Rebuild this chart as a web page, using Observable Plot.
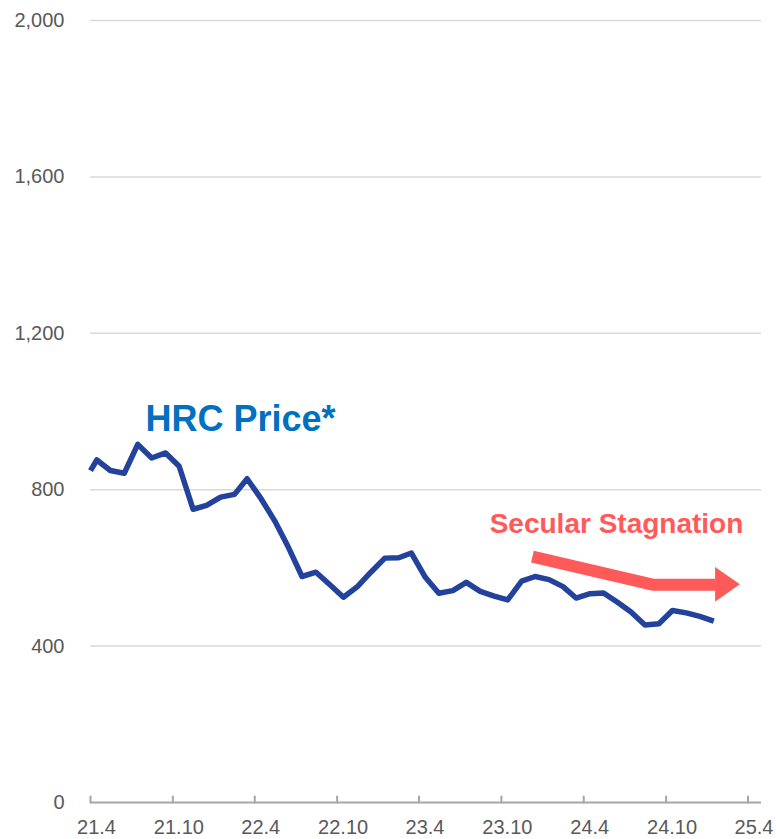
<!DOCTYPE html>
<html><head><meta charset="utf-8">
<script src="https://cdn.jsdelivr.net/npm/d3@7"></script>
<script src="https://cdn.jsdelivr.net/npm/@observablehq/plot@0.6"></script>
<style>
body{margin:0;background:#fff;}
#chart svg{display:block;}
</style>
</head><body><div id="chart"></div>
<script>
// HRC price series (point dates and values)
const dates = [
  "2021-04-01","2021-04-15","2021-05-15","2021-06-15","2021-07-15","2021-08-15","2021-09-15",
  "2021-10-15","2021-11-15","2021-12-15","2022-01-15","2022-02-15","2022-03-15","2022-04-15",
  "2022-05-15","2022-06-15","2022-07-15","2022-08-15","2022-09-15","2022-10-15","2022-11-15",
  "2022-12-15","2023-01-15","2023-02-15","2023-03-15","2023-04-15","2023-05-15","2023-06-15",
  "2023-07-15","2023-08-15","2023-09-15","2023-10-15","2023-11-15","2023-12-15","2024-01-15",
  "2024-02-15","2024-03-15","2024-04-15","2024-05-15","2024-06-15","2024-07-15","2024-08-15",
  "2024-09-15","2024-10-15","2024-11-15","2024-12-15","2025-01-15"
];
const prices = [
  849, 876, 849, 842, 916, 881, 894,
  860, 750, 760, 781, 788, 828, 777,
  721, 652, 578, 589, 557, 525, 552,
  589, 625, 626, 638, 576, 535, 542,
  563, 540, 528, 518, 566, 578, 570,
  552, 523, 534, 536, 512, 487, 454,
  457, 491, 485, 476, 464
];
const xTicks = ["2021-04-01","2021-10-01","2022-04-01","2022-10-01","2023-04-01","2023-10-01","2024-04-01","2024-10-01","2025-04-01"];
const yTicks = [0, 400, 800, 1200, 1600, 2000];
const xDomain = ["2021-04-01", "2025-05-01"];
const yDomain = [0, 2000];

// annotations
const seriesLabel = {date: "2021-08-01", value: 951, text: "HRC Price*"};
const trendLabel = {date: "2023-09-05", value: 689, text: "Secular Stagnation"};
const arrowDates = ["2023-12-09", "2024-09-01", "2025-01-19"];
const arrowValues = [629, 557, 557];
const headDates = ["2025-01-19", "2025-03-15"];
const headLow = [512, 557];
const headHigh = [601, 557];

const P = s => new Date(s + "T00:00:00Z");
const series = dates.map((d, i) => ({date: P(d), value: prices[i]}));
const arrow = arrowDates.map((d, i) => ({date: P(d), value: arrowValues[i]}));
const head = headDates.map((d, i) => ({date: P(d), lo: headLow[i], hi: headHigh[i]}));
const tickDates = xTicks.map(P);

const gray = "#595959";
const red = "#FF5A5A";
const fmtX = d => `${d.getUTCFullYear() % 100}.${d.getUTCMonth() + 1}`;

const chart = Plot.plot({
  width: 776,
  height: 839,
  marginLeft: 90,
  marginRight: 15,
  marginTop: 20,
  marginBottom: 37,
  style: {fontFamily: "'Liberation Sans', Arial, sans-serif", background: "#fff", overflow: "visible"},
  x: {type: "utc", domain: xDomain.map(P)},
  y: {domain: yDomain},
  marks: [
    Plot.gridY(yTicks.filter(d => d > 0), {stroke: "#d9d9d9", strokeOpacity: 1, strokeWidth: 1.5}),
    Plot.axisY(yTicks, {tickSize: 0, tickPadding: 26, fontSize: 20, fill: gray, tickFormat: d3.format(","), label: null}),
    Plot.ruleY([0], {stroke: "#a6a6a6", strokeWidth: 2}),
    Plot.vector(tickDates, {x: d => d, y: 0, length: 6, rotate: 0, anchor: "start", stroke: "#a6a6a6", strokeWidth: 2,
      shape: {draw(ctx, l) { ctx.moveTo(0, 0); ctx.lineTo(0, -l); }}}),
    Plot.axisX(tickDates, {tickSize: 0, tickPadding: 17, fontSize: 20, fill: gray, tickFormat: fmtX, dx: 6, label: null}),
    Plot.line(series, {x: "date", y: "value", stroke: "#22429B", strokeWidth: 5.5, strokeLinejoin: "round", strokeLinecap: "butt"}),
    Plot.line(arrow, {x: "date", y: "value", stroke: red, strokeWidth: 12, strokeLinejoin: "miter", strokeLinecap: "butt"}),
    Plot.areaY(head, {x: "date", y1: "lo", y2: "hi", fill: red}),
    Plot.text([seriesLabel], {x: d => P(d.date), y: "value", text: "text", textAnchor: "start", lineAnchor: "bottom", fontSize: 36, fontWeight: "bold", fill: "#0070C0"}),
    Plot.text([trendLabel], {x: d => P(d.date), y: "value", text: "text", textAnchor: "start", lineAnchor: "bottom", fontSize: 28, fontWeight: "bold", fill: red})
  ]
});
document.getElementById("chart").appendChild(chart);
</script>
</body></html>
